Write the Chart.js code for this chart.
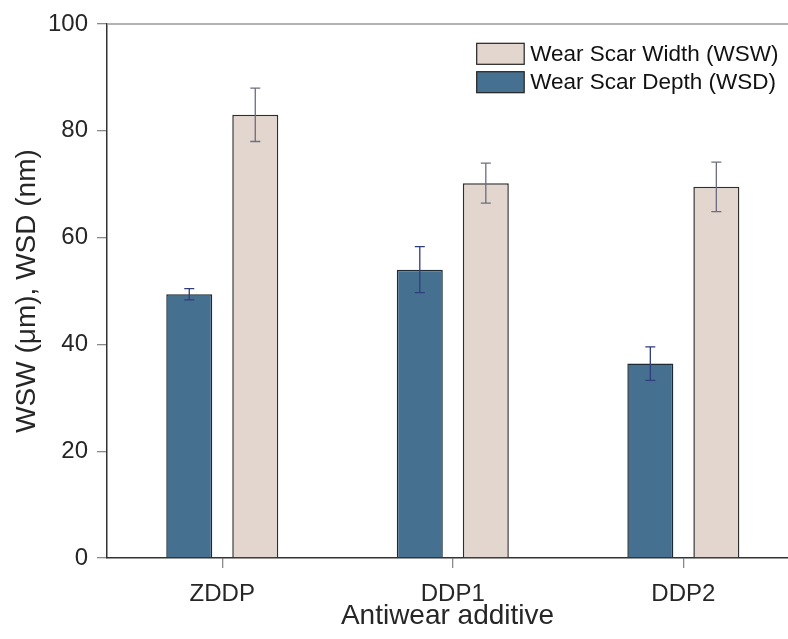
<!DOCTYPE html>
<html>
<head>
<meta charset="utf-8">
<script src="https://cdn.jsdelivr.net/npm/chart.js@4/dist/chart.umd.min.js"></script>
<style>
  html, body { margin: 0; padding: 0; background: #fff; overflow: hidden; }
  #wrap { width: 788px; height: 639px; }
</style>
</head>
<body>
<div id="wrap"><canvas id="c" width="788" height="639"></canvas></div>
<script>
// Antiwear additives on the x axis
const categories = ['ZDDP', 'DDP1', 'DDP2'];

// Wear scar depth (nm) and its error
const wsdValues = [49.4, 54.0, 36.4];
const wsdErrors = [1.05, 4.3, 3.15];

// Wear scar width (um) and its error
const wswValues = [83.0, 70.2, 69.5];
const wswErrors = [5.0, 3.75, 4.65];

// y-axis ticks
const yTicks = [0, 20, 40, 60, 80, 100];

const FONT = '"Liberation Sans", Arial, Helvetica, sans-serif';

// Draw error bars (vertical whisker with caps) for each bar element
const errorBars = {
  id: 'errorBars',
  afterDatasetsDraw(chart) {
    const { ctx } = chart;
    const yScale = chart.scales.y;
    chart.data.datasets.forEach((ds, di) => {
      const meta = chart.getDatasetMeta(di);
      ctx.save();
      ctx.strokeStyle = ds.errorColor;
      ctx.lineWidth = 1.3;
      meta.data.forEach((bar, i) => {
        const v = ds.data[i].y;
        const e = ds.errors[i];
        const yTop = yScale.getPixelForValue(v + e);
        const yBot = yScale.getPixelForValue(v - e);
        const x = bar.x;
        const cap = 5;
        ctx.beginPath();
        ctx.moveTo(x, yTop); ctx.lineTo(x, yBot);
        ctx.moveTo(x - cap, yTop); ctx.lineTo(x + cap, yTop);
        ctx.moveTo(x - cap, yBot); ctx.lineTo(x + cap, yBot);
        ctx.stroke();
      });
      ctx.restore();
    });
  }
};

// Top frame line and an in-plot legend at the upper right
const frameAndLegend = {
  id: 'frameAndLegend',
  afterDraw(chart) {
    const { ctx, chartArea } = chart;
    ctx.save();
    ctx.strokeStyle = '#9a9a9a';
    ctx.lineWidth = 1.5;
    ctx.beginPath();
    ctx.moveTo(chartArea.left, chartArea.top);
    ctx.lineTo(chartArea.right, chartArea.top);
    ctx.stroke();

    const items = chart.data.datasets.slice().reverse();
    const boxW = 47.5, boxH = 21, rowGap = 28.4;
    const x0 = chartArea.right - 311.3;
    const y0 = chartArea.top + 19.3;
    ctx.font = '22.5px ' + FONT;
    ctx.textBaseline = 'middle';
    ctx.textAlign = 'left';
    items.forEach((ds, k) => {
      const y = y0 + k * rowGap;
      ctx.fillStyle = ds.backgroundColor;
      ctx.fillRect(x0, y, boxW, boxH);
      ctx.strokeStyle = '#222';
      ctx.lineWidth = 1.2;
      ctx.strokeRect(x0, y, boxW, boxH);
      ctx.fillStyle = '#111';
      ctx.fillText(ds.label, x0 + boxW + 6, y + boxH / 2 + 1);
    });
    ctx.restore();
  }
};

const toPoints = vals => vals.map((v, i) => ({ x: i, y: v }));

new Chart(document.getElementById('c'), {
  type: 'bar',
  data: {
    datasets: [
      {
        label: 'Wear Scar Depth (WSD)',
        data: toPoints(wsdValues),
        errors: wsdErrors,
        errorColor: '#2e3d7c',
        backgroundColor: '#46708f',
        borderColor: '#1e2a33',
        borderWidth: 1.5
      },
      {
        label: 'Wear Scar Width (WSW)',
        data: toPoints(wswValues),
        errors: wswErrors,
        errorColor: '#6c6c82',
        backgroundColor: '#e2d6ce',
        borderColor: '#2e2e2e',
        borderWidth: 1.5
      }
    ]
  },
  options: {
    responsive: false,
    animation: false,
    devicePixelRatio: 1,
    categoryPercentage: 0.5727,
    barPercentage: 0.697,
    layout: { padding: { top: 24, right: 0, bottom: 0, left: 0 } },
    plugins: {
      legend: { display: false },
      tooltip: { enabled: false }
    },
    scales: {
      x: {
        type: 'linear',
        offset: false,
        min: -0.5,
        max: 2.454,
        afterBuildTicks: s => { s.ticks = categories.map((_, i) => ({ value: i })); },
        afterFit: s => { s.height = 81; },
        ticks: {
          callback: v => categories[v],
          font: { family: FONT, size: 24 },
          color: '#262626',
          padding: 12,
          maxRotation: 0
        },
        grid: { offset: false, drawOnChartArea: false, drawTicks: true, tickLength: 10, color: '#8a8a8a', lineWidth: 1.3 },
        border: { color: '#333', width: 1.5 },
        title: {
          display: true,
          text: 'Antiwear additive',
          font: { family: FONT, size: 28 },
          color: '#262626',
          padding: { top: 0, bottom: 6 }
        }
      },
      y: {
        min: 0,
        max: 100,
        afterBuildTicks: s => { s.ticks = yTicks.map(v => ({ value: v })); },
        afterFit: s => { s.width = 107; },
        ticks: {
          font: { family: FONT, size: 24 },
          color: '#262626',
          padding: 9
        },
        grid: { drawOnChartArea: false, drawTicks: true, tickLength: 10, color: '#8a8a8a', lineWidth: 1.3 },
        border: { color: '#333', width: 1.5 },
        title: {
          display: true,
          text: 'WSW (\u03bcm), WSD (nm)',
          font: { family: FONT, size: 28 },
          color: '#262626',
          padding: { top: 10, bottom: 0 }
        }
      }
    }
  },
  plugins: [errorBars, frameAndLegend]
});
</script>
</body>
</html>
